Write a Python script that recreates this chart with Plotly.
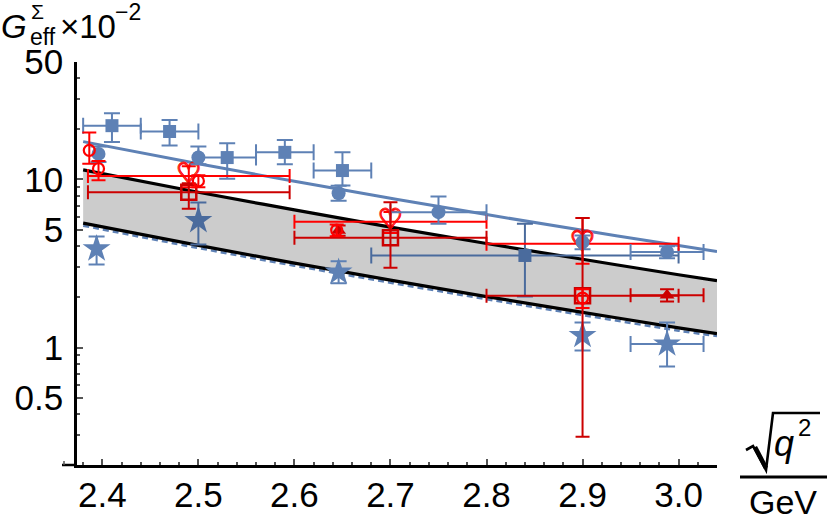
import plotly.graph_objects as go

W, H = 830, 521
L, R, T, B = 77, 113, 62, 56
PW, PH = W - L - R, H - T - B

BLUE = "#5E81B5"
BLUE_D = "#4A6B9D"
RED = "#FF0000"
RED_D = "#CC0000"
FONT = "Liberation Sans"

# ---------------- theory curves ----------------
curve_x = [2.38, 2.5, 2.6, 2.7, 2.8, 2.9, 3.0, 3.04]
blue_fit = [16.8, 12.41, 9.75, 7.73, 6.18, 4.98, 4.05, 3.73]
band_upper = [11.4, 8.40, 6.59, 5.21, 4.16, 3.35, 2.71, 2.50]
band_lower = [5.50, 4.05, 3.18, 2.52, 2.01, 1.62, 1.31, 1.21]
blue_dashed = [5.31, 3.91, 3.07, 2.43, 1.94, 1.56, 1.26, 1.17]

# ---------------- blue data ----------------
bsq_x = [2.41, 2.47, 2.53, 2.59, 2.65]
bsq_y = [20.9, 19.3, 13.5, 14.5, 11.3]
bsq_xe = [0.03, 0.03, 0.03, 0.03, 0.03]
bsq_yp = [3.9, 3.3, 2.9, 2.7, 3.2]
bsq_ym = [4.2, 3.4, 3.4, 2.2, 2.1]

bsq2_x = [2.84]
bsq2_y = [3.53]
bsq2_xe = [0.16]
bsq2_yp = [1.92]
bsq2_ym = [1.52]

bci_x = [2.396, 2.50, 2.646, 2.75, 2.90, 2.988]
bci_y = [14.2, 13.5, 8.28, 6.39, 4.24, 3.70]
bci_xe = [0, 0, 0, 0.05, 0, 0.038]
bci_yp = [1.5, 2.2, 0.9, 1.54, 0.4, 0.3]
bci_ym = [1.5, 1.2, 0.8, 0.94, 0.4, 0.3]

bst_x = [2.394, 2.646, 2.90, 2.988]
bst_y = [3.87, 2.81, 1.18, 1.05]
bst_xe = [0, 0, 0, 0.038]
bst_yp = [0.71, 0.45, 0.23, 0.36]
bst_ym = [0.75, 0.40, 0.22, 0.28]

bst2_x = [2.50]
bst2_y = [5.70]
bst2_xe = [0]
bst2_yp = [1.6]
bst2_ym = [1.6]

# ---------------- red data ----------------
rci_x = [2.3864, 2.396, 2.50, 2.644, 2.90]
rci_y = [14.9, 11.6, 9.8, 5.0, 1.97]
rci_xe = [0, 0, 0, 0, 0]
rci_yp = [4.1, 1.3, 0.8, 0.4, 0.25]
rci_ym = [2.5, 1.7, 0.8, 0.4, 0.25]

rht_x = [2.49, 2.70, 2.90]
rht_y = [10.5, 5.6, 4.15]
rht_xe = [0.105, 0.10, 0.10]
rht_yp = [1.5, 0.8, 1.75]
rht_ym = [1.5, 0.8, 1.0]

rsq_x = [2.49, 2.70, 2.90]
rsq_y = [8.4, 4.5, 2.03]
rsq_xe = [0.105, 0.10, 0.10]
rsq_yp = [1.1, 2.83, 3.87]
rsq_ym = [1.7, 1.52, 1.735]

rtr_x = [2.646, 2.988]
rtr_y = [4.97, 2.05]
rtr_xe = [0, 0.038]
rtr_yp = [0.35, 0.17]
rtr_ym = [0.35, 0.17]

x_major = [2.4, 2.5, 2.6, 2.7, 2.8, 2.9, 3.0]
x_major_text = ["2.4", "2.5", "2.6", "2.7", "2.8", "2.9", "3.0"]
x_minor = [2.38, 2.42, 2.44, 2.46, 2.48, 2.52, 2.54, 2.56, 2.58, 2.62, 2.64, 2.66,
           2.68, 2.72, 2.74, 2.76, 2.78, 2.82, 2.84, 2.86, 2.88, 2.92, 2.94, 2.96,
           2.98, 3.02, 3.04]
y_major = [0.5, 1, 5, 10, 50]
y_major_text = ["0.5", "1", "5", "10", "50"]
y_minor = [0.3, 0.4, 0.6, 0.7, 0.8, 0.9, 2, 3, 4, 6, 7, 8, 9, 20, 30, 40]

fig = go.Figure()

# band
fig.add_trace(go.Scatter(x=curve_x, y=band_lower, mode="lines", line=dict(width=0, shape="spline"),
                         hoverinfo="skip", showlegend=False))
fig.add_trace(go.Scatter(x=curve_x, y=band_upper, mode="lines", line=dict(width=0, shape="spline"),
                         fill="tonexty", fillcolor="rgb(204,204,204)", hoverinfo="skip", showlegend=False))
fig.add_trace(go.Scatter(x=curve_x, y=blue_dashed, mode="lines",
                         line=dict(color=BLUE, width=2.5, dash="6px,4px", shape="spline"), showlegend=False))
for ys in (band_upper, band_lower):
    fig.add_trace(go.Scatter(x=curve_x, y=ys, mode="lines",
                             line=dict(color="black", width=3.2, shape="spline"), showlegend=False))
fig.add_trace(go.Scatter(x=curve_x, y=blue_fit, mode="lines",
                         line=dict(color=BLUE, width=3, shape="spline"), showlegend=False))

HEART_SHADOW = ("0.9px 0px 0px #ff0000, -0.9px 0px 0px #ff0000, 0px 0.9px 0px #ff0000, "
                "0px -0.9px 0px #ff0000")


def add_series(xs, ys, xe, yp, ym, color, marker=None, text=None, capw=7, textsize=28):
    groups = {}
    for i in range(len(xs)):
        groups.setdefault(xe[i] > 0, []).append(i)
    for has_xe, idx in groups.items():
        kw = dict(x=[xs[i] for i in idx], y=[ys[i] for i in idx], showlegend=False,
                  hoverinfo="x+y")
        kw["error_y"] = dict(type="data", symmetric=False, array=[yp[i] for i in idx],
                             arrayminus=[ym[i] for i in idx], color=color, thickness=2, width=capw)
        if has_xe:
            kw["error_x"] = dict(type="data", array=[xe[i] for i in idx], color=color,
                                 thickness=2, width=capw)
        if text is None:
            kw["mode"] = "markers"
            kw["marker"] = marker
        else:
            kw["mode"] = "markers+text"
            kw["marker"] = dict(size=2, color="rgba(0,0,0,0)")
            kw["text"] = [text] * len(idx)
            kw["textposition"] = "middle center"
            kw["textfont"] = dict(family="DejaVu Sans", size=textsize, color=color,
                                  weight="bold", shadow=HEART_SHADOW)
        fig.add_trace(go.Scatter(**kw))


add_series(bsq_x, bsq_y, bsq_xe, bsq_yp, bsq_ym, BLUE,
           dict(symbol="square", size=13, color=BLUE), capw=8)
add_series(bsq2_x, bsq2_y, bsq2_xe, bsq2_yp, bsq2_ym, BLUE_D,
           dict(symbol="square", size=13, color=BLUE_D), capw=8)
add_series(rht_x, rht_y, rht_xe, rht_yp, rht_ym, RED, text="♡", capw=7, textsize=28)
add_series(bci_x, bci_y, bci_xe, bci_yp, bci_ym, BLUE,
           dict(symbol="circle", size=14, color=BLUE), capw=8)
add_series(bst_x, bst_y, bst_xe, bst_yp, bst_ym, BLUE,
           dict(symbol="star", size=21, color=BLUE), capw=8)
add_series(bst2_x, bst2_y, bst2_xe, bst2_yp, bst2_ym, BLUE_D,
           dict(symbol="star", size=21, color=BLUE_D), capw=8)

add_series(rsq_x, rsq_y, rsq_xe, rsq_yp, rsq_ym, RED_D,
           dict(symbol="square-open", size=15, color=RED_D, line=dict(width=2.5)), capw=7)
add_series(rtr_x, rtr_y, rtr_xe, rtr_yp, rtr_ym, RED_D,
           dict(symbol="triangle-up", size=13, color=RED_D), capw=7)
add_series(rci_x, rci_y, rci_xe, rci_yp, rci_ym, RED,
           dict(symbol="circle-open", size=11, color=RED, line=dict(width=2.2)), capw=7)


def px(xp):
    return (xp - L) / PW


def py(yp):
    return (H - B - yp) / PH


shapes = [
    # x-axis extension to the left of the y axis
    dict(type="line", xref="paper", yref="paper", x0=px(62), x1=0, y0=0, y1=0,
         line=dict(color="black", width=2.5)),
    dict(type="line", xref="paper", yref="paper", x0=px(64), x1=px(64), y0=0, y1=py(461),
         line=dict(color="#555", width=1.5)),
    # fraction line of axis label
    dict(type="line", xref="paper", yref="paper", x0=px(740), x1=px(827), y0=py(477), y1=py(477),
         line=dict(color="black", width=3)),
    # radical sign
    dict(type="path", xref="paper", yref="paper",
         path=f"M {px(746)},{py(450)} L {px(753)},{py(446)} L {px(766)},{py(470)} "
              f"L {px(773)},{py(413)} L {px(820)},{py(413)}",
         line=dict(color="black", width=2.6)),
    dict(type="line", xref="paper", yref="paper", x0=px(755), x1=px(766), y0=py(447), y1=py(468),
         line=dict(color="black", width=4.5)),
]

ann = []


def text(t, x, y, size, xanchor="left", italic=False, pad=1):
    ann.append(dict(text=f"<i>{t}</i>" if italic else t, xref="paper", yref="paper",
                    x=px(x), y=py(y), xanchor=xanchor, yanchor="middle", showarrow=False,
                    borderpad=pad, font=dict(family=FONT, size=size, color="black")))


text("G", 0, 27, 33, italic=True, pad=0)
text("Σ", 30, 11, 21, pad=0)
text("eff", 29, 37, 23, pad=0)
text("×10", 59, 27, 33, pad=0)
text("−2", 114, 12, 23, pad=0)
text("q", 772, 443, 36, italic=True)
text("2", 796, 427, 24)
text("GeV", 783, 502, 34, xanchor="center")

fig.update_layout(
    width=W, height=H, autosize=False,
    margin=dict(l=L, r=R, t=T, b=B, pad=0),
    paper_bgcolor="white", plot_bgcolor="white",
    shapes=shapes, annotations=ann, showlegend=False,
    font=dict(family=FONT, size=34, color="black"),
    xaxis=dict(range=[2.3736, 3.040], showgrid=False, zeroline=False, showline=True,
               automargin=False,
               linecolor="black", linewidth=2.5, ticks="inside", ticklen=6, tickwidth=1.5,
               tickcolor="#555", tickvals=x_major, ticktext=x_major_text,
               tickfont=dict(family=FONT, size=35, color="black"), ticklabelstandoff=-3,
               minor=dict(tickmode="array", tickvals=x_minor, ticks="inside", ticklen=3.5,
                          tickwidth=1.5, tickcolor="#555", showgrid=False)),
    yaxis=dict(type="log", range=[-0.69897, 1.69897], showgrid=False, zeroline=False,
               automargin=False,
               showline=True, linecolor="black", linewidth=2.5, ticks="inside", ticklen=6,
               tickwidth=1.5, tickcolor="#555", tickvals=y_major, ticktext=y_major_text,
               tickfont=dict(family=FONT, size=35, color="black"), ticklabelstandoff=4,
               minor=dict(tickmode="array", tickvals=y_minor, ticks="inside", ticklen=3.5,
                          tickwidth=1.5, tickcolor="#555", showgrid=False)),
)

fig.write_html("out.html", config={"displayModeBar": False},
               post_script="document.body.style.margin='0';document.body.style.overflow='hidden';")
